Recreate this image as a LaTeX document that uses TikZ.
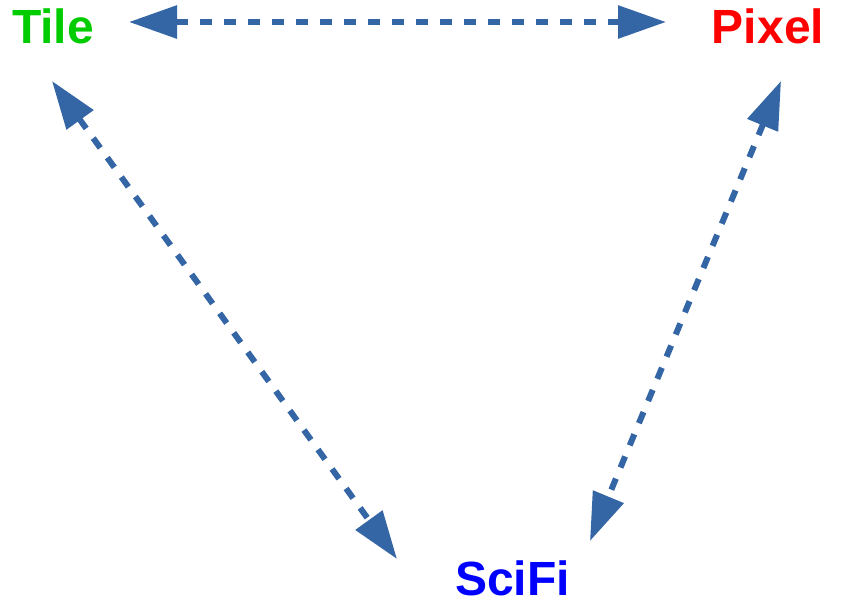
\documentclass[tikz,border=0pt]{standalone}
\usepackage{fontspec}
\setmainfont{Liberation Sans}
\usetikzlibrary{arrows.meta}
\definecolor{arrowblue}{HTML}{3465A4}
\definecolor{tilegreen}{HTML}{00CC00}
\begin{document}
\begin{tikzpicture}[x=1pt,y=-1pt,
  label/.style={font=\fontsize{48}{50}\selectfont\bfseries, inner sep=0pt, text depth=0pt, anchor=base},
  link/.style={draw=arrowblue, line width=6pt, dash pattern=on 12pt off 12pt,
    {Triangle[length=48pt,width=32pt]}-{Triangle[length=48pt,width=32pt]}}]
\useasboundingbox (0,0) rectangle (844,598);
\node[label, text=tilegreen] (tile) at (53,43) {Tile};
\node[label, text=red] (pixel) at (768,43) {Pixel};
\node[label, text=blue] (scifi) at (512.5,595) {SciFi};
\coordinate (t1) at (129,22);
\coordinate (p1) at (666,22);
\coordinate (t2) at (52,81);
\coordinate (s1) at (397,559);
\coordinate (p2) at (781,81);
\coordinate (s2) at (590,541);
\draw[link] (t1) -- (p1);
\draw[link] (t2) -- (s1);
\draw[link] (p2) -- (s2);
\end{tikzpicture}
\end{document}
